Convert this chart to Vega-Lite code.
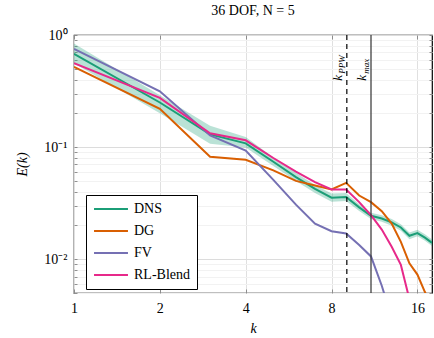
{
  "$schema": "https://vega.github.io/schema/vega-lite/v6.json",
  "width": 358,
  "height": 258,
  "autosize": {"type": "none"},
  "padding": {"left": 74, "top": 35, "right": 2, "bottom": 45},
  "background": "white",
  "title": {"text": "36 DOF, N = 5", "font": "Liberation Serif", "fontSize": 14, "fontWeight": "normal", "anchor": "middle", "offset": 10, "color": "black"},
  "config": {
    "font": "Liberation Serif",
    "view": {"stroke": "black", "strokeWidth": 1.2},
    "axis": {"labelFont": "Liberation Serif", "labelFontSize": 14, "labelColor": "black", "titleFont": "Liberation Serif", "titleFontSize": 14, "titleFontWeight": "normal", "titleFontStyle": "italic", "titleColor": "black", "domain": false, "tickColor": "#777", "tickWidth": 0.8}
  },
  "datasets": {
    "spectra": [
      {"k": 1, "series": "DNS", "E": 0.68}, {"k": 2, "series": "DNS", "E": 0.25}, {"k": 3, "series": "DNS", "E": 0.13}, {"k": 4, "series": "DNS", "E": 0.108}, {"k": 5, "series": "DNS", "E": 0.074}, {"k": 6, "series": "DNS", "E": 0.054}, {"k": 7, "series": "DNS", "E": 0.0425}, {"k": 8, "series": "DNS", "E": 0.0354}, {"k": 9, "series": "DNS", "E": 0.0359}, {"k": 10, "series": "DNS", "E": 0.029}, {"k": 11, "series": "DNS", "E": 0.0244}, {"k": 12, "series": "DNS", "E": 0.0231}, {"k": 13, "series": "DNS", "E": 0.0213}, {"k": 14, "series": "DNS", "E": 0.0192}, {"k": 15, "series": "DNS", "E": 0.0162}, {"k": 16, "series": "DNS", "E": 0.0171}, {"k": 17, "series": "DNS", "E": 0.0156}, {"k": 18, "series": "DNS", "E": 0.014},
      {"k": 1, "series": "DG", "E": 0.52}, {"k": 2, "series": "DG", "E": 0.22}, {"k": 3, "series": "DG", "E": 0.082}, {"k": 4, "series": "DG", "E": 0.077}, {"k": 5, "series": "DG", "E": 0.062}, {"k": 6, "series": "DG", "E": 0.05}, {"k": 7, "series": "DG", "E": 0.0455}, {"k": 8, "series": "DG", "E": 0.042}, {"k": 9, "series": "DG", "E": 0.048}, {"k": 10, "series": "DG", "E": 0.037}, {"k": 11, "series": "DG", "E": 0.0323}, {"k": 12, "series": "DG", "E": 0.0268}, {"k": 13, "series": "DG", "E": 0.0208}, {"k": 14, "series": "DG", "E": 0.0143}, {"k": 15, "series": "DG", "E": 0.0092}, {"k": 16, "series": "DG", "E": 0.0073}, {"k": 17, "series": "DG", "E": 0.0051}, {"k": 18, "series": "DG", "E": 0.0038},
      {"k": 1, "series": "FV", "E": 0.75}, {"k": 2, "series": "FV", "E": 0.315}, {"k": 3, "series": "FV", "E": 0.127}, {"k": 4, "series": "FV", "E": 0.093}, {"k": 5, "series": "FV", "E": 0.051}, {"k": 6, "series": "FV", "E": 0.0307}, {"k": 7, "series": "FV", "E": 0.0208}, {"k": 8, "series": "FV", "E": 0.0178}, {"k": 9, "series": "FV", "E": 0.017}, {"k": 10, "series": "FV", "E": 0.0134}, {"k": 11, "series": "FV", "E": 0.0106}, {"k": 12, "series": "FV", "E": 0.0058}, {"k": 13, "series": "FV", "E": 0.003},
      {"k": 1, "series": "RL-Blend", "E": 0.56}, {"k": 2, "series": "RL-Blend", "E": 0.275}, {"k": 3, "series": "RL-Blend", "E": 0.133}, {"k": 4, "series": "RL-Blend", "E": 0.115}, {"k": 5, "series": "RL-Blend", "E": 0.08}, {"k": 6, "series": "RL-Blend", "E": 0.0605}, {"k": 7, "series": "RL-Blend", "E": 0.0487}, {"k": 8, "series": "RL-Blend", "E": 0.0419}, {"k": 9, "series": "RL-Blend", "E": 0.0418}, {"k": 10, "series": "RL-Blend", "E": 0.0323}, {"k": 11, "series": "RL-Blend", "E": 0.0247}, {"k": 12, "series": "RL-Blend", "E": 0.0184}, {"k": 13, "series": "RL-Blend", "E": 0.0129}, {"k": 14, "series": "RL-Blend", "E": 0.0089}, {"k": 15, "series": "RL-Blend", "E": 0.0044}, {"k": 16, "series": "RL-Blend", "E": 0.002}
    ],
    "band": [
      {"k": 1, "lo": 0.56, "hi": 0.84}, {"k": 2, "lo": 0.2, "hi": 0.29}, {"k": 3, "lo": 0.107, "hi": 0.155}, {"k": 4, "lo": 0.099, "hi": 0.123}, {"k": 5, "lo": 0.068, "hi": 0.081}, {"k": 6, "lo": 0.05, "hi": 0.059}, {"k": 7, "lo": 0.039, "hi": 0.046}, {"k": 8, "lo": 0.0325, "hi": 0.0385}, {"k": 9, "lo": 0.033, "hi": 0.039}, {"k": 10, "lo": 0.027, "hi": 0.031}, {"k": 11, "lo": 0.0228, "hi": 0.026}, {"k": 12, "lo": 0.0216, "hi": 0.0247}, {"k": 13, "lo": 0.0199, "hi": 0.0228}, {"k": 14, "lo": 0.018, "hi": 0.0205}, {"k": 15, "lo": 0.0151, "hi": 0.0173}, {"k": 16, "lo": 0.016, "hi": 0.0183}, {"k": 17, "lo": 0.0146, "hi": 0.0167}, {"k": 18, "lo": 0.0131, "hi": 0.015}
    ],
    "marks": [
      {"k": 9.05, "E": 0.39, "main": "k", "sub": "PPW", "kind": "dashed"},
      {"k": 11, "E": 0.39, "main": "k", "sub": "max", "kind": "solid"}
    ]
  },
  "layer": [
    {
      "data": {"name": "band"},
      "mark": {"type": "area", "fill": "#1b9e77", "opacity": 0.3, "clip": true},
      "encoding": {
        "x": {"field": "k", "type": "quantitative", "scale": {"type": "log", "base": 2, "domain": [1, 18], "nice": false},
              "axis": {"orient": "bottom", "values": [1, 2, 4, 8, 16], "title": "k", "tickSize": -4, "labelPadding": 12, "titlePadding": 6, "grid": true, "gridColor": "#e0e0e0", "labelFlush": false}},
        "y": {"field": "lo", "type": "quantitative", "scale": {"type": "log", "domain": [0.005, 1], "nice": false},
              "axis": {"orient": "left", "title": "E(k)", "values": [0.005, 0.006, 0.007, 0.008, 0.009, 0.01, 0.02, 0.03, 0.04, 0.05, 0.06, 0.07, 0.08, 0.09, 0.1, 0.2, 0.3, 0.4, 0.5, 0.6, 0.7, 0.8, 0.9, 1],
                       "labelExpr": "datum.value == 1 ? '10⁰' : datum.value == 0.1 ? '10⁻¹' : datum.value == 0.01 ? '10⁻²' : ''",
                       "tickSize": -3, "labelPadding": 10, "titlePadding": 14, "grid": true,
                       "gridColor": {"condition": {"test": "datum.value == 1 || datum.value == 0.1 || datum.value == 0.01", "value": "#dcdcdc"}, "value": "#f2f2f2"}}},
        "y2": {"field": "hi"}
      }
    },
    {
      "data": {"name": "spectra"},
      "mark": {"type": "line", "strokeWidth": 2, "clip": true},
      "encoding": {
        "x": {"field": "k", "type": "quantitative", "scale": {"type": "log", "base": 2, "domain": [1, 18], "nice": false},
              "axis": {"orient": "top", "values": [1, 2, 4, 8, 16], "labels": false, "title": null, "tickSize": -4, "grid": false}},
        "y": {"field": "E", "type": "quantitative", "scale": {"type": "log", "domain": [0.005, 1], "nice": false},
              "axis": {"orient": "right", "values": [0.005, 0.006, 0.007, 0.008, 0.009, 0.01, 0.02, 0.03, 0.04, 0.05, 0.06, 0.07, 0.08, 0.09, 0.1, 0.2, 0.3, 0.4, 0.5, 0.6, 0.7, 0.8, 0.9, 1], "labels": false, "title": null, "tickSize": -3, "grid": false}},
        "color": {"field": "series", "type": "nominal",
                  "scale": {"domain": ["DNS", "DG", "FV", "RL-Blend"], "range": ["#1b9e77", "#d95f02", "#7570b3", "#e7298a"]},
                  "legend": {"title": null, "orient": "none", "legendX": 12, "legendY": 160, "symbolType": "M-3,0H3", "symbolSize": 128, "symbolStrokeWidth": 2, "symbolOffset": 11, "labelFont": "Liberation Serif", "labelFontSize": 14, "labelColor": "black", "labelOffset": 16, "rowPadding": 8, "padding": 7, "strokeColor": "black", "fillColor": "white", "cornerRadius": 0}}
      }
    },
    {
      "data": {"name": "marks"},
      "transform": [{"filter": "datum.kind == 'dashed'"}],
      "mark": {"type": "rule", "color": "black", "strokeWidth": 1.2, "strokeDash": [5, 4]},
      "encoding": {"x": {"field": "k", "type": "quantitative", "axis": null}}
    },
    {
      "data": {"name": "marks"},
      "transform": [{"filter": "datum.kind == 'solid'"}],
      "mark": {"type": "rule", "color": "#333", "strokeWidth": 1.2},
      "encoding": {"x": {"field": "k", "type": "quantitative", "axis": null}}
    },
    {
      "data": {"name": "marks"},
      "mark": {"type": "text", "angle": 270, "align": "left", "baseline": "alphabetic", "dy": -5, "font": "Liberation Serif", "fontStyle": "italic", "fontSize": 13, "color": "black"},
      "encoding": {"x": {"field": "k", "type": "quantitative", "axis": null}, "y": {"field": "E", "type": "quantitative", "axis": null}, "text": {"field": "main"}}
    },
    {
      "data": {"name": "marks"},
      "mark": {"type": "text", "angle": 270, "align": "left", "baseline": "alphabetic", "dx": 7, "dy": -2, "font": "Liberation Serif", "fontStyle": "italic", "fontSize": 9, "color": "black"},
      "encoding": {"x": {"field": "k", "type": "quantitative", "axis": null}, "y": {"field": "E", "type": "quantitative", "axis": null}, "text": {"field": "sub"}}
    }
  ],
  "resolve": {"axis": {"x": "independent", "y": "independent"}}
}
